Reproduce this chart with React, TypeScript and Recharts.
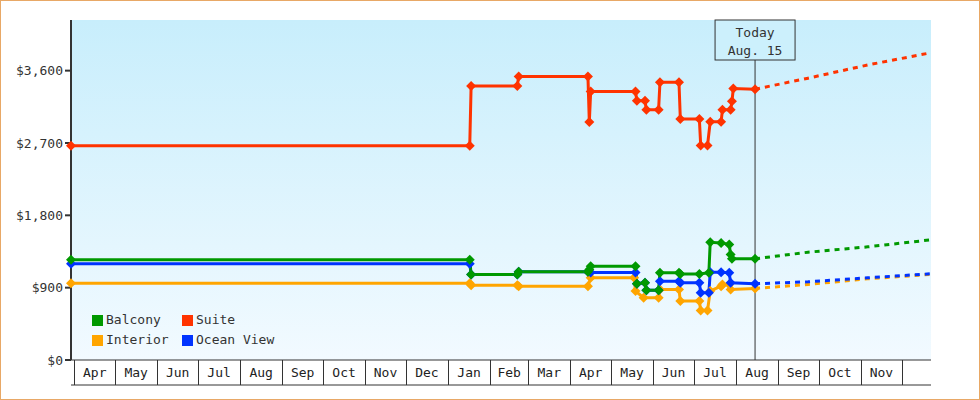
import React from 'react';
import { LineChart, Line, XAxis, YAxis, CartesianGrid, ReferenceLine, Legend } from 'recharts';

// x values are days counted from Apr 1 of the first year
const MONTHS = ['Apr', 'May', 'Jun', 'Jul', 'Aug', 'Sep', 'Oct', 'Nov', 'Dec', 'Jan', 'Feb', 'Mar', 'Apr', 'May', 'Jun', 'Jul', 'Aug', 'Sep', 'Oct', 'Nov'];
const MONTH_STARTS = [0, 30, 61, 91, 122, 153, 183, 214, 244, 275, 306, 334, 365, 395, 426, 456, 487, 518, 548, 579, 609];
const Y_TICKS = [0, 900, 1800, 2700, 3600];
const TODAY = 501;
const TODAY_TEXT = ['Today', 'Aug. 15'];

const balconyHistory = [
  [-2.5, 1246], [291, 1246], [292, 1064], [326, 1064], [327, 1097], [378, 1097], [379, 1125], [380, 1167],
  [413, 1167], [414, 948], [420, 961], [421, 869], [430, 869], [431, 1085], [445, 1085], [446, 1070],
  [460, 1070], [467, 1085], [468, 1465], [476, 1457], [482, 1436], [483, 1312], [484, 1259], [501, 1259],
];
const balconyForecast = [[501, 1259], [540, 1341], [584, 1408], [630.5, 1495]];

const suiteHistory = [
  [-2.5, 2665], [291, 2665], [292, 3410], [326, 3410], [327, 3526], [378, 3526], [379, 2960], [380, 3339],
  [413, 3339], [414, 3224], [420, 3224], [421, 3112], [430, 3112], [431, 3456], [445, 3456], [446, 2997],
  [460, 2997], [461, 2669], [466, 2669], [468, 2963], [476, 2963], [477, 3112], [483, 3112], [484, 3220],
  [485, 3377], [501, 3369],
];
const suiteForecast = [[501, 3369], [540, 3506], [584, 3671], [630.5, 3823]];

const interiorHistory = [
  [-2.5, 956], [291, 956], [292, 931], [326, 931], [327, 919], [378, 919], [380, 1023], [412, 1023],
  [413, 857], [419, 775], [430, 775], [431, 878], [445, 878], [446, 733], [460, 733], [461, 617],
  [466, 617], [468, 857], [476, 919], [477, 940], [482, 940], [483, 878], [501, 890],
];
const interiorForecast = [[501, 890], [540, 940], [584, 1010], [630.5, 1065]];

const oceanHistory = [
  [-2.5, 1197], [291, 1197], [292, 1064], [326, 1064], [327, 1097], [378, 1097], [380, 1090], [413, 1090],
  [414, 948], [420, 961], [421, 869], [430, 869], [431, 981], [445, 981], [446, 960], [460, 960],
  [461, 837], [467, 837], [468, 1092], [476, 1092], [482, 1085], [483, 961], [501, 948],
];
const oceanForecast = [[501, 948], [540, 973], [584, 1023], [630.5, 1073]];

const toRows = (pts: number[][]) => pts.map(([day, price]) => ({ day, price }));

// drawn bottom to top
const SERIES = [
  { name: 'Interior', color: '#ffa500', history: interiorHistory, forecast: interiorForecast },
  { name: 'Ocean View', color: '#0033ff', history: oceanHistory, forecast: oceanForecast },
  { name: 'Balcony', color: '#009900', history: balconyHistory, forecast: balconyForecast },
  { name: 'Suite', color: '#ff3300', history: suiteHistory, forecast: suiteForecast },
];
const LEGEND_ORDER = ['Balcony', 'Suite', 'Interior', 'Ocean View'];

const FONT = "'DejaVu Sans Mono', monospace";
const INK = '#333';

const MIDS = MONTH_STARTS.slice(0, -1).map((s, i) => (s + MONTH_STARTS[i + 1]) / 2);
const X_TICKS = [...MONTH_STARTS, ...MIDS].sort((a, b) => a - b);

const MonthTick = ({ x, y, payload }: any) => {
  const v = payload.value;
  if (MONTH_STARTS.includes(v)) {
    const px = Math.round(x) + 0.5;
    return <line x1={px} y1={y} x2={px} y2={y + 25} stroke={INK} strokeWidth={1} />;
  }
  const i = MIDS.indexOf(v);
  return (
    <text x={x} y={y + 17} textAnchor="middle" fontFamily={FONT} fontSize={13} fill="#222">
      {MONTHS[i]}
    </text>
  );
};

const diamond = (color: string) => (props: any) => {
  const { cx, cy, index } = props;
  const r = 5;
  return (
    <path
      key={`d-${index}`}
      d={`M${cx},${cy - r}L${cx + r},${cy}L${cx},${cy + r}L${cx - r},${cy}Z`}
      fill={color}
    />
  );
};

const TodayLabel = ({ viewBox }: any) => {
  const { x, y } = viewBox;
  return (
    <g>
      <rect x={x - 40} y={y} width={80} height={40} fill="#ccf0fc" stroke={INK} strokeWidth={1} />
      <text x={x} y={y + 17} textAnchor="middle" fontFamily={FONT} fontSize={13} fill={INK}>{TODAY_TEXT[0]}</text>
      <text x={x} y={y + 35} textAnchor="middle" fontFamily={FONT} fontSize={13} fill={INK}>{TODAY_TEXT[1]}</text>
    </g>
  );
};

const renderLegend = () => (
  <div style={{ display: 'grid', gridTemplateColumns: '90px 110px', fontFamily: FONT, fontSize: 13, color: INK, lineHeight: '20px' }}>
    {LEGEND_ORDER.map((name) => {
      const s = SERIES.find((d) => d.name === name)!;
      return (
        <div key={name} style={{ display: 'flex', alignItems: 'center', whiteSpace: 'nowrap' }}>
          <span style={{ width: 11, height: 11, background: s.color, marginRight: 3, display: 'inline-block' }} />
          {name}
        </div>
      );
    })}
  </div>
);

export default function App() {
  return (
    <div style={{ position: 'absolute', left: 0, top: 0, width: 980, height: 400, background: '#fff' }}>
      <LineChart width={980} height={400} margin={{ top: 20, right: 49, bottom: 0, left: 0 }}>
        <defs>
          <linearGradient id="plotBg" x1="0" y1="0" x2="0" y2="1">
            <stop offset="0%" stopColor="#c8eefc" />
            <stop offset="100%" stopColor="#f2faff" />
          </linearGradient>
        </defs>
        <CartesianGrid horizontal={false} vertical={false} fill="url(#plotBg)" />
        <XAxis
          type="number"
          dataKey="day"
          domain={[-2.5, 630.5]}
          ticks={X_TICKS}
          interval={0}
          tick={<MonthTick />}
          tickLine={false}
          tickSize={0}
          tickMargin={0}
          height={25}
          axisLine={{ stroke: INK, strokeWidth: 1 }}
        />
        <XAxis
          xAxisId="base"
          type="number"
          dataKey="day"
          domain={[-2.5, 630.5]}
          tick={false}
          tickLine={false}
          height={15}
          axisLine={{ stroke: INK, strokeWidth: 1 }}
        />
        <YAxis
          width={71}
          domain={[0, 4230]}
          ticks={Y_TICKS}
          interval={0}
          tickFormatter={(v: number) => `$${v.toLocaleString('en-US')}`}
          tick={{ fontFamily: FONT, fontSize: 13, fill: INK }}
          tickSize={6}
          tickMargin={2}
          tickLine={{ stroke: INK, strokeWidth: 2 }}
          axisLine={{ stroke: INK, strokeWidth: 2 }}
        />
        <ReferenceLine x={TODAY} stroke={INK} strokeWidth={1} label={<TodayLabel />} />
        {SERIES.map((s) => (
          <Line
            key={`${s.name}-f`}
            data={toRows(s.forecast)}
            dataKey="price"
            type="linear"
            stroke={s.color}
            strokeWidth={3}
            strokeDasharray="5 5"
            dot={false}
            legendType="none"
            isAnimationActive={false}
          />
        ))}
        {SERIES.map((s) => (
          <Line
            key={s.name}
            name={s.name}
            data={toRows(s.history)}
            dataKey="price"
            type="linear"
            stroke={s.color}
            strokeWidth={3}
            dot={diamond(s.color)}
            activeDot={false}
            isAnimationActive={false}
          />
        ))}
        <Legend
          layout="vertical"
          align="center"
          verticalAlign="middle"
          content={renderLegend}
          wrapperStyle={{ left: 92, top: 310, width: 220, height: 40 }}
        />
      </LineChart>
      <div
        style={{
          position: 'absolute', left: 0, top: 0, width: 980, height: 400,
          border: '1px solid #e8a866', boxSizing: 'border-box', pointerEvents: 'none',
        }}
      />
    </div>
  );
}
